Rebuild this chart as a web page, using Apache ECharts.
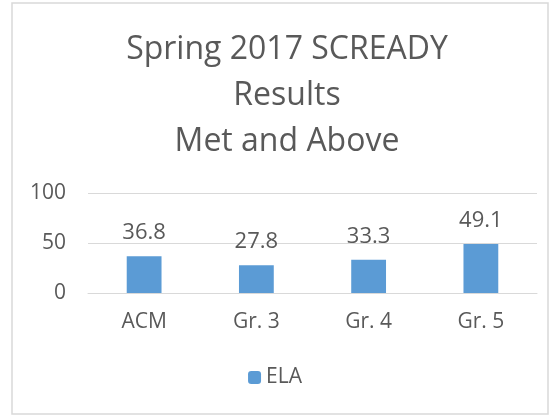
<!DOCTYPE html>
<html>
<head>
<meta charset="utf-8">
<script src="https://cdn.jsdelivr.net/npm/echarts@6/dist/echarts.min.js"></script>
<style>
  html, body { margin: 0; padding: 0; background: #fff; }
  #chart { width: 550px; height: 417px; }
</style>
</head>
<body>
<div id="chart"></div>
<script>
var categories = ['ACM', 'Gr. 3', 'Gr. 4', 'Gr. 5'];
var elaValues = [36.8, 27.8, 33.3, 49.1];
var yTicks = [0, 50, 100];

var chart = echarts.init(document.getElementById('chart'));

var option = {
    backgroundColor: '#fff',
    textStyle: { fontFamily: 'Open Sans' },
    graphic: [{
        type: 'rect',
        shape: { x: 12, y: 3, width: 536, height: 411 },
        style: { fill: 'none', stroke: '#d9d9d9', lineWidth: 1.5 },
        silent: true
    }],
    title: {
        text: 'Spring 2017 SCREADY\nResults\nMet and Above',
        left: 282,
        top: 22,
        textAlign: 'center',
        textStyle: {
            fontFamily: 'Open Sans',
            fontSize: 32,
            fontWeight: 'normal',
            color: '#595959',
            lineHeight: 46
        }
    },
    legend: {
        data: ['ELA'],
        bottom: 24,
        left: 'center',
        itemWidth: 13,
        itemHeight: 13,
        itemGap: 8,
        textStyle: { fontSize: 21, color: '#595959' }
    },
    grid: {
        left: 88,
        right: 13,
        top: 193,
        bottom: 124
    },
    xAxis: {
        type: 'category',
        data: categories,
        axisLine: { show: true, lineStyle: { color: '#d9d9d9' } },
        axisTick: { show: false },
        axisLabel: { fontSize: 21, color: '#595959', margin: 19 }
    },
    yAxis: {
        type: 'value',
        min: yTicks[0],
        max: yTicks[yTicks.length - 1],
        interval: 50,
        axisLine: { show: false },
        axisTick: { show: false },
        splitLine: { lineStyle: { color: '#d9d9d9' } },
        axisLabel: { fontSize: 21, color: '#595959', margin: 22 }
    },
    series: [{
        name: 'ELA',
        type: 'bar',
        data: elaValues,
        barWidth: '31%',
        itemStyle: { color: '#5b9bd5' },
        label: {
            show: true,
            position: 'top',
            distance: 12,
            fontSize: 22,
            color: '#595959'
        }
    }]
};

chart.setOption(option);
</script>
</body>
</html>
